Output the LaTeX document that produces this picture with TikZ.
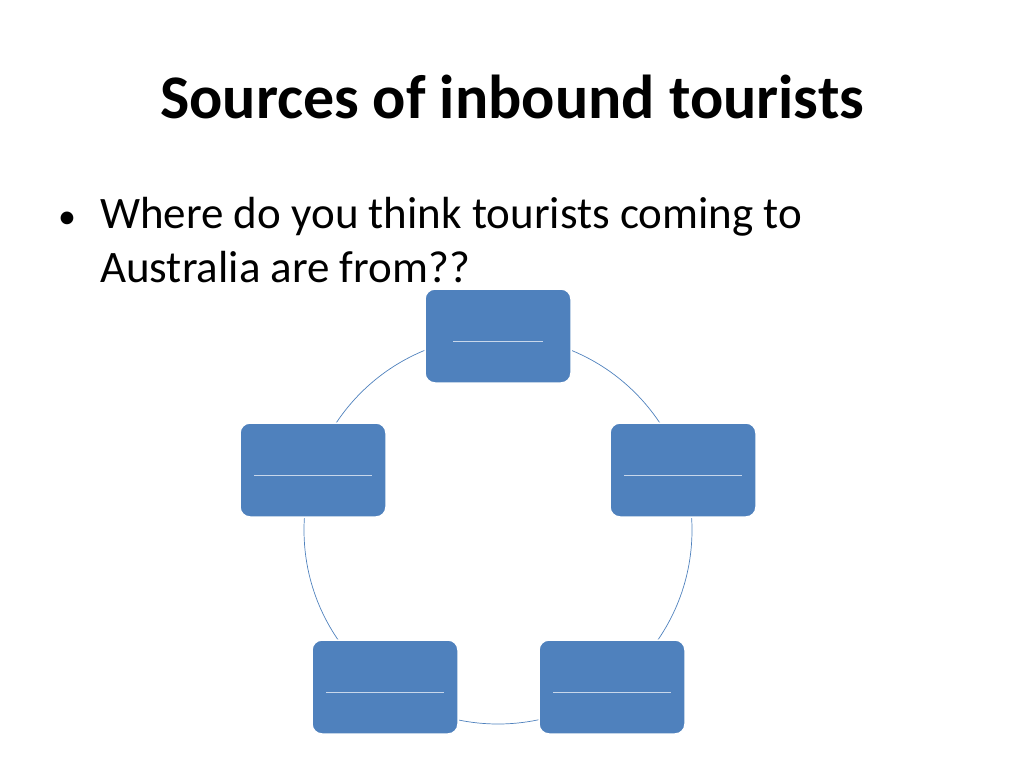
\documentclass[tikz,border=0pt]{standalone}
\usepackage{fontspec}
\setmainfont{Carlito}
\begin{document}
\begin{tikzpicture}[x=1pt,y=-1pt,
  srcbox/.style={draw=white,line width=1.5pt,fill={rgb,255:red,79;green,129;blue,189},rounded corners=10pt,minimum width=146pt,minimum height=94pt},
  blank/.style={draw={rgb,255:red,200;green,215;blue,235},line width=0.6pt},
  bodytxt/.style={anchor=base west,font=\fontsize{45}{54}\selectfont,inner sep=0pt}]
\useasboundingbox (0,0) rectangle (1024,768);
\node[font=\bfseries\fontsize{62}{70}\selectfont] (title) at (512,97) {Sources of inbound tourists};
\node[anchor=base west,font=\fontsize{36}{40}\selectfont,inner sep=0pt] (bul) at (58,228) {\textbullet};
\node[bodytxt] (l1) at (100,228) {Where do you think tourists coming to};
\node[bodytxt] (l2) at (100,282) {Australia are from??};
\draw[draw={rgb,255:red,79;green,129;blue,189},line width=0.7pt] (498,530) circle (194);
\node[srcbox] (b1) at (498,336) {};
\node[srcbox] (b2) at (683,470) {};
\node[srcbox] (b3) at (612,687) {};
\node[srcbox] (b4) at (385,687) {};
\node[srcbox] (b5) at (313,470) {};
\draw[blank] ([xshift=-45pt,yshift=-5pt]b1.center) -- ([xshift=45pt,yshift=-5pt]b1.center);
\foreach \b in {b2,b3,b4,b5}
  \draw[blank] ([xshift=-59pt,yshift=-5pt]\b.center) -- ([xshift=59pt,yshift=-5pt]\b.center);
\end{tikzpicture}
\end{document}
